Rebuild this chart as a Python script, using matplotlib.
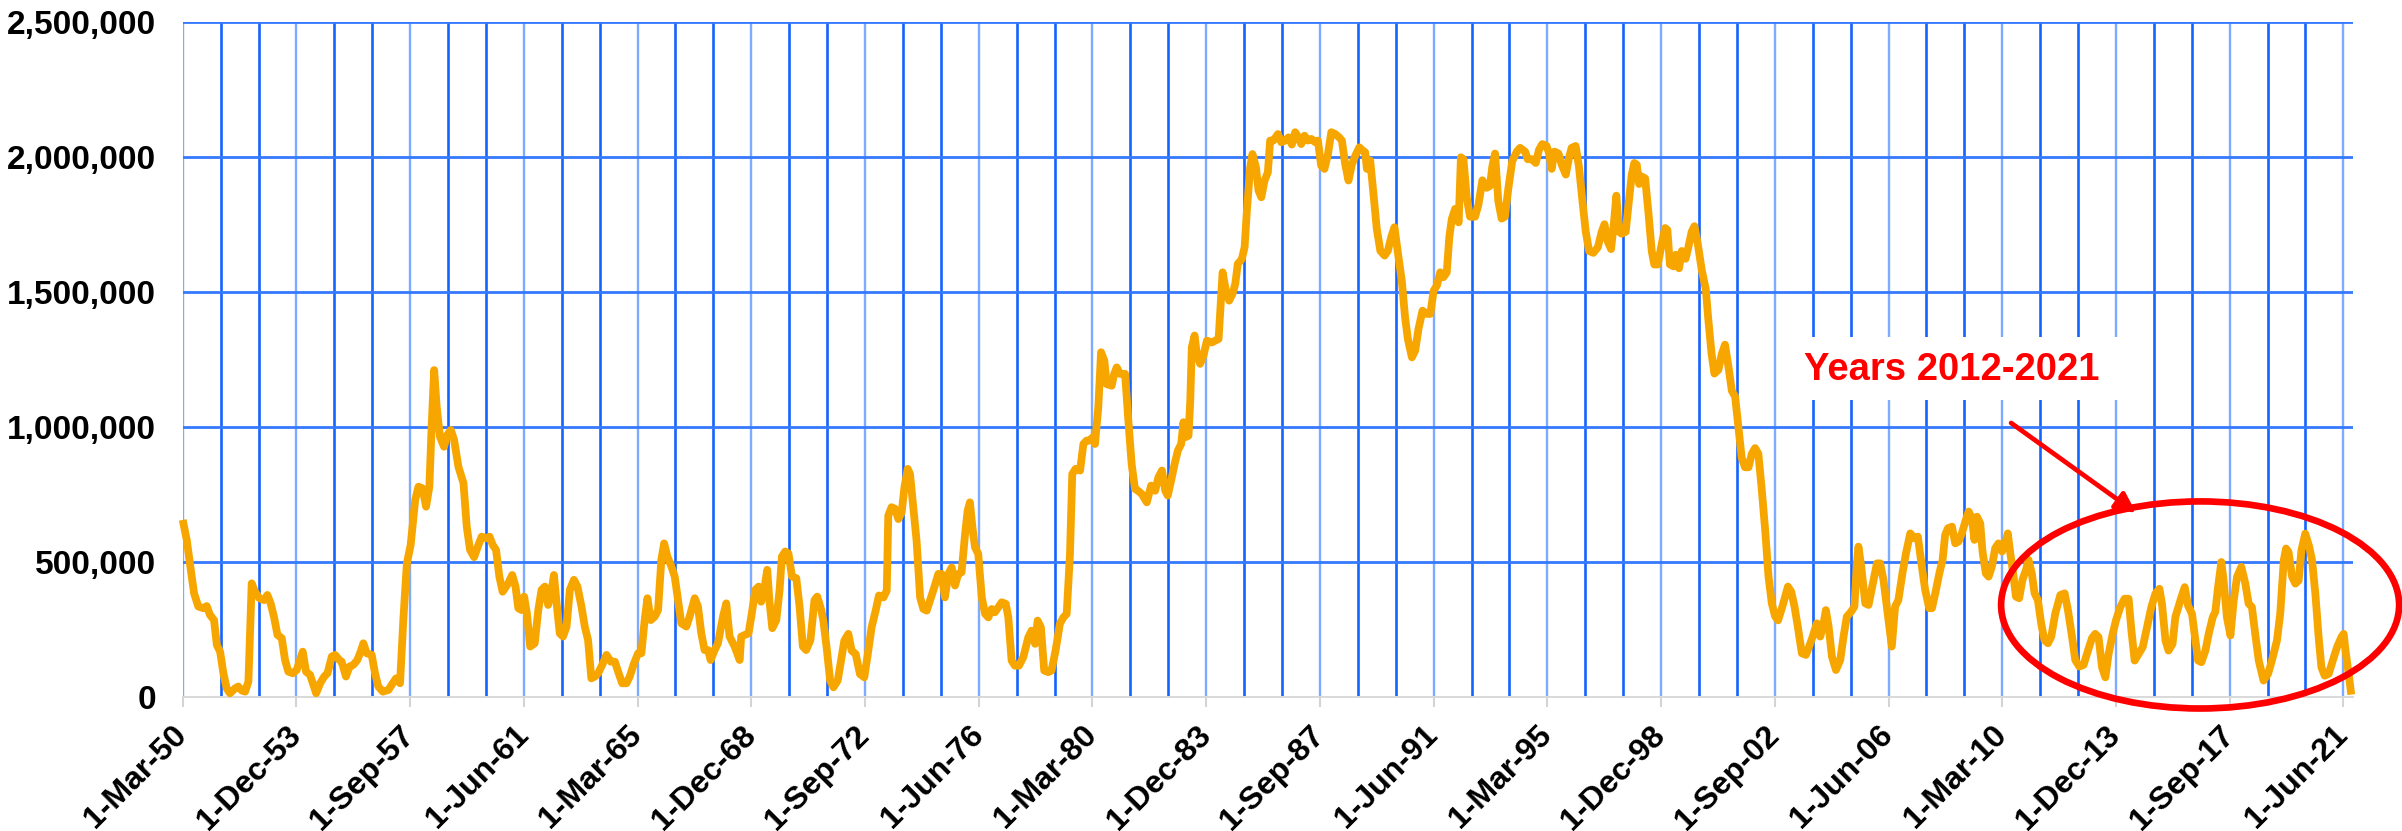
import matplotlib
matplotlib.use('Agg')
import matplotlib.pyplot as plt
from matplotlib.patches import Ellipse, Rectangle
from matplotlib.ticker import FuncFormatter, MultipleLocator
import numpy as np

# position of each point, in months after 1-Mar-1950
months = [
    0.0, 1.6, 3.2, 4.5, 6.2, 8.2, 9.5, 10.8, 12.4, 13.5, 14.8, 16.1, 17.4, 18.7, 20.7, 22.0,
    23.4, 24.7, 26.0, 27.3, 28.6, 30.3, 32.2, 33.5, 34.8, 36.1, 37.5, 39.2, 40.5, 41.8, 43.5,
    45.1, 46.4, 47.5, 48.8, 50.4, 51.7, 52.8, 54.4, 56.0, 57.3, 59.0, 60.3, 62.0, 62.9, 64.6,
    66.0, 67.5, 69.1, 70.4, 71.5, 72.8, 74.8, 76.1, 77.4, 79.2, 81.4, 83.1, 84.4, 86.0, 87.3,
    88.7, 90.2, 92.0, 93.3, 94.9, 96.3, 97.6, 98.5, 99.5, 100.5, 101.8, 103.4, 104.7, 106.1,
    107.4, 109.1, 111.1, 112.4, 113.7, 115.3, 117.0, 118.3, 120.1, 121.4, 122.7, 124.0, 125.3,
    126.6, 128.8, 130.4, 131.7, 132.8, 134.1, 135.1, 136.2, 137.5, 139.3, 140.7, 142.0, 143.3,
    144.6, 145.9, 146.9, 147.9, 149.2, 150.5, 151.9, 153.2, 154.8, 156.2, 157.8, 159.1, 160.4,
    161.7, 163.1, 164.4, 166.0, 167.7, 169.4, 171.0, 172.3, 173.9, 175.6, 176.9, 178.6, 180.2,
    181.5, 182.8, 183.9, 185.2, 186.8, 188.1, 189.4, 190.5, 191.8, 193.4, 194.7, 196.0, 197.3,
    199.3, 200.6, 202.6, 203.9, 205.2, 206.5, 207.9, 208.9, 210.5, 211.8, 213.8, 215.1, 216.4,
    218.4, 220.4, 221.0, 222.4, 223.9, 225.0, 226.6, 227.9, 228.9, 230.3, 231.3, 232.2, 233.3,
    234.9, 236.2, 237.1, 238.4, 239.7, 241.1, 242.8, 244.1, 245.4, 246.7, 248.4, 250.0, 251.1,
    252.7, 253.5, 254.8, 256.2, 257.5, 259.2, 260.5, 261.8, 263.4, 264.7, 266.3, 268.0, 269.7,
    271.1, 272.6, 274.2, 275.5, 277.3, 278.6, 279.2, 280.5, 281.9, 283.2, 284.5, 285.6, 286.9,
    287.8, 289.1, 290.4, 291.8, 293.1, 294.4, 295.7, 297.4, 299.0, 300.3, 301.6, 303.0, 304.3,
    305.6, 306.9, 308.2, 309.6, 310.6, 311.5, 312.5, 313.5, 314.8, 316.2, 317.5, 318.8, 320.1,
    321.4, 322.7, 324.1, 325.7, 326.7, 328.0, 329.3, 330.9, 332.6, 334.6, 335.9, 337.3, 338.3,
    339.6, 340.9, 342.5, 343.8, 345.4, 347.1, 348.5, 349.8, 351.1, 352.0, 353.3, 355.1, 356.4,
    357.7, 359.0, 360.1, 361.0, 362.3, 363.4, 364.7, 365.6, 367.6, 368.6, 369.6, 370.9, 372.9,
    374.2, 375.5, 376.8, 378.0, 379.5, 381.5, 383.2, 384.8, 386.1, 387.5, 388.8, 389.8, 391.1,
    392.5, 393.8, 395.1, 396.0, 396.7, 398.0, 398.7, 399.3, 400.4, 401.3, 402.6, 403.9, 405.3,
    407.2, 408.6, 409.9, 411.5, 412.8, 414.1, 415.4, 416.5, 417.5, 419.1, 420.2, 421.1, 422.4,
    423.3, 424.7, 425.7, 426.8, 428.1, 429.4, 430.3, 431.6, 433.4, 434.7, 436.3, 437.6, 438.9,
    440.2, 441.5, 442.6, 443.9, 445.2, 446.6, 448.1, 449.2, 450.5, 451.8, 453.2, 454.5, 456.1,
    457.6, 458.7, 460.0, 461.3, 462.7, 464.0, 465.6, 466.9, 467.9, 468.6, 469.9, 471.2, 472.5,
    473.9, 475.6, 476.9, 478.2, 479.5, 481.1, 482.4, 483.7, 484.8, 486.4, 487.7, 489.0, 490.6,
    492.3, 493.7, 495.0, 496.3, 497.6, 498.9, 500.2, 501.2, 502.2, 503.5, 504.9, 505.8, 506.8,
    508.1, 509.4, 511.4, 512.7, 514.3, 516.0, 517.3, 518.2, 519.3, 520.6, 521.9, 523.2, 524.6,
    526.1, 527.9, 529.2, 531.2, 532.2, 533.8, 535.4, 536.7, 538.0, 539.7, 540.7, 541.7, 542.8,
    544.4, 545.7, 547.3, 548.6, 549.6, 551.2, 552.5, 553.9, 555.2, 556.5, 558.2, 560.0, 561.5,
    562.6, 563.9, 565.2, 566.3, 567.3, 568.4, 569.4, 571.0, 572.1, 573.4, 574.4, 575.4, 576.3,
    577.3, 578.7, 580.0, 581.3, 582.3, 583.7, 585.3, 586.6, 587.5, 588.5, 589.9, 590.8, 592.1,
    593.2, 594.7, 595.8, 597.1, 598.2, 599.5, 601.1, 602.7, 603.7, 605.0, 606.1, 607.7, 609.0,
    610.3, 611.6, 613.0, 614.3, 615.6, 616.9, 618.2, 619.6, 620.9, 622.2, 623.5, 624.8, 626.2,
    627.5, 628.8, 630.1, 631.3, 633.0, 635.2, 636.5, 637.8, 639.1, 640.7, 642.3, 643.6, 645.0,
    646.6, 648.0, 649.3, 650.2, 651.3, 652.6, 654.2, 655.9, 657.2, 658.5, 660.2, 661.5, 662.5,
    663.1, 664.2, 665.8, 667.1, 668.7, 670.4, 671.7, 673.0, 675.0, 676.3, 677.6, 678.9, 680.5,
    681.9, 683.6, 685.3, 686.6, 688.2, 689.5, 691.1, 692.2, 693.5, 695.1, 696.4, 697.4, 698.5,
    700.1, 701.4, 702.7, 704.0, 705.6, 706.7, 708.0, 709.0, 710.0, 711.3, 712.2, 713.5, 714.6,
    715.9, 717.2, 718.5, 719.9, 720.9, 722.2, 723.2, 724.5, 725.4, 726.7, 728.0, 729.4, 730.4,
    731.7, 732.8, 734.1, 735.4, 736.7, 738.1, 739.4, 741.0, 743.0, 744.7, 746.0, 747.6, 748.9,
    750.5, 752.2, 754.0, 755.5, 756.8, 758.1, 759.5, 760.8, 762.1, 763.7, 765.0, 766.7, 768.4,
    770.0, 771.1, 772.4, 774.0, 775.6, 777.3, 779.0, 780.6, 782.2, 783.2, 784.6, 785.8, 787.4,
    788.5, 790.5, 792.2, 793.5, 795.1, 796.1, 797.5, 798.8, 800.4, 801.7, 803.3, 804.3, 805.4,
    806.7, 807.6, 808.9, 810.3, 811.6, 812.9, 814.6, 816.2, 817.5, 818.8, 820.1, 821.5, 823.4,
    825.2, 826.7, 828.7, 830.0, 831.4, 832.3, 833.3, 834.7, 836.0, 837.3, 838.4, 839.9, 841.5,
    842.6, 843.9, 845.2, 846.3, 847.6, 849.2, 850.8, 852.5, 854.2, 855.1, 856.0, 857.1, 858.1,
]

# values in thousands
values_k = [
    657, 583, 472, 385, 336, 330, 338, 305, 286, 194, 169, 89, 33, 15, 33, 40,
    25, 21, 58, 422, 391, 367, 360, 379, 348, 299, 231, 219, 138, 95, 89,
    101, 138, 169, 95, 83, 46, 15, 52, 77, 89, 151, 157, 138, 132, 77,
    114, 120, 138, 169, 200, 163, 157, 89, 40, 21, 27, 52, 70, 52, 286,
    496, 564, 731, 780, 774, 706, 780, 1002, 1212, 1077, 965, 928, 972, 990,
    953, 854, 793, 632, 546, 519, 564, 595, 589, 595, 564, 546, 447,
    391, 422, 453, 410, 330, 323, 373, 311, 188, 200, 323, 398, 410,
    342, 391, 453, 354, 237, 225, 262, 398, 435, 410, 336, 262, 212,
    70, 77, 89, 120, 157, 132, 132, 95, 52, 52, 77, 126, 163,
    163, 286, 367, 286, 299, 323, 509, 570, 521, 484, 447, 360, 274,
    262, 299, 367, 336, 237, 175, 175, 138, 175, 200, 299, 348, 225,
    188, 138, 225, 231, 237, 299, 398, 410, 354, 410, 472, 354, 256,
    286, 398, 521, 540, 533, 447, 441, 336, 188, 175, 212, 360, 373,
    323, 284, 185, 62, 37, 62, 136, 210, 235, 173, 160, 86, 74,
    160, 259, 321, 377, 370, 395, 673, 704, 698, 660, 685, 778, 846,
    827, 704, 580, 370, 327, 321, 358, 407, 457, 457, 370, 457, 481,
    414, 457, 463, 605, 691, 722, 630, 556, 531, 370, 309, 296, 327,
    315, 333, 352, 346, 296, 136, 117, 117, 148, 222, 247, 198, 284,
    259, 99, 93, 99, 173, 272, 296, 309, 531, 827, 846, 840, 938,
    951, 951, 963, 938, 1074, 1278, 1247, 1160, 1154, 1198, 1222, 1198, 1198,
    1025, 864, 772, 765, 753, 722, 784, 765, 815, 840, 765, 747, 802,
    864, 914, 938, 1019, 963, 969, 1099, 1296, 1340, 1272, 1235, 1265, 1321,
    1314, 1321, 1327, 1574, 1506, 1469, 1494, 1531, 1605, 1623, 1667, 1802, 1963,
    2012, 1963, 1877, 1852, 1914, 1944, 2062, 2062, 2086, 2056, 2062, 2074, 2047,
    2093, 2074, 2049, 2080, 2062, 2068, 2056, 2062, 1969, 1957, 2012, 2093, 2086,
    2074, 2062, 1975, 1914, 1975, 2006, 2037, 2025, 2019, 1957, 1988, 1864, 1735,
    1654, 1636, 1654, 1704, 1741, 1630, 1543, 1407, 1327, 1259, 1284, 1364, 1432,
    1420, 1420, 1506, 1525, 1574, 1556, 1574, 1704, 1772, 1809, 1759, 2000, 1993,
    1851, 1780, 1780, 1823, 1915, 1887, 1894, 1965, 2014, 1837, 1773, 1780, 1887,
    1986, 2021, 2035, 2021, 1993, 1993, 1979, 2028, 2049, 2042, 2014, 1957, 2021,
    2014, 1972, 1936, 2000, 2035, 2042, 1965, 1837, 1724, 1653, 1646, 1667, 1724,
    1752, 1688, 1660, 1752, 1858, 1724, 1717, 1724, 1823, 1936, 1979, 1972, 1901,
    1929, 1922, 1795, 1653, 1603, 1603, 1681, 1738, 1731, 1603, 1596, 1639, 1589,
    1653, 1624, 1667, 1724, 1745, 1681, 1582, 1511, 1398, 1271, 1199, 1213, 1271,
    1306, 1228, 1135, 1114, 1001, 887, 852, 852, 902, 923, 902, 774, 618,
    448, 349, 300, 285, 336, 410, 391, 336, 262, 163, 157, 188, 225,
    274, 225, 274, 323, 262, 151, 101, 138, 225, 299, 317, 336, 496,
    558, 484, 348, 342, 416, 496, 496, 435, 286, 188, 336, 360, 459,
    533, 607, 589, 595, 484, 398, 330, 330, 385, 459, 509, 601, 626,
    632, 570, 577, 607, 657, 688, 663, 583, 669, 644, 540, 459, 447,
    484, 552, 570, 540, 558, 607, 533, 447, 373, 367, 435, 472, 509,
    459, 385, 360, 274, 212, 200, 225, 311, 379, 385, 323, 225, 138,
    114, 120, 175, 219, 235, 223, 111, 74, 161, 235, 285, 334, 365,
    365, 248, 136, 161, 186, 260, 334, 384, 402, 347, 210, 173, 198,
    297, 359, 408, 340, 309, 235, 136, 130, 173, 235, 297, 316, 408,
    501, 433, 297, 229, 359, 446, 483, 421, 347, 334, 235, 136, 62,
    87, 136, 210, 309, 507, 551, 538, 446, 421, 433, 545, 606, 557,
    507, 384, 223, 111, 80, 87, 136, 186, 223, 235, 161, 87, 10,
]

tick_months = list(range(0, 856, 45))
tick_labels = ['1-Mar-50', '1-Dec-53', '1-Sep-57', '1-Jun-61', '1-Mar-65',
               '1-Dec-68', '1-Sep-72', '1-Jun-76', '1-Mar-80', '1-Dec-83',
               '1-Sep-87', '1-Jun-91', '1-Mar-95', '1-Dec-98', '1-Sep-02',
               '1-Jun-06', '1-Mar-10', '1-Dec-13', '1-Sep-17', '1-Jun-21']
y_ticks = [0, 500000, 1000000, 1500000, 2000000, 2500000]
note_text = 'Years 2012-2021'

plt.rcParams['font.family'] = ['Liberation Sans', 'DejaVu Sans']

W, H = 2402, 831
fig = plt.figure(figsize=(W / 100, H / 100), dpi=100)
x0, x1, y_top, y_zero = 182.7, 2352.5, 22.3, 697.3
ax = fig.add_axes([x0 / W, 1 - y_zero / H, (x1 - x0) / W, (y_zero - y_top) / H])

x = np.array(months)
y = np.array(values_k) * 1000.0
ax.plot(x, y, color='#F7A600', lw=5.6, solid_joinstyle='round',
        solid_capstyle='butt', zorder=3, clip_on=False)

ax.set_xlim(0, 858.6)
ax.set_ylim(0, 2500000)

# x axis: labels every 45 months, extra gridlines every 15 months
ax.set_xticks(tick_months)
ax.set_xticklabels(tick_labels, rotation=45, ha='right', va='center',
                   rotation_mode='anchor', fontsize=23, fontweight='bold')
ax.xaxis.set_minor_locator(MultipleLocator(15))
ax.grid(which='major', axis='x', color='#7DABFF', lw=1.7)
ax.grid(which='minor', axis='x', color='#1563FF', lw=1.9)

ax.set_yticks(y_ticks)
ax.yaxis.set_major_formatter(FuncFormatter(lambda v, p: f'{int(v):,}'))
for lbl in ax.get_yticklabels():
    lbl.set_fontweight('bold')
ax.grid(which='major', axis='y', color='#3479FF', lw=2.0)
ax.yaxis.get_gridlines()[0].set_visible(False)
ax.set_axisbelow(True)

ax.tick_params(axis='y', length=0, pad=19, labelsize=24)
ax.tick_params(axis='x', which='major', length=7, width=1.5, color='#D4D4D4', pad=17)
ax.tick_params(axis='x', which='minor', length=0)
for s in ['top', 'right', 'left']:
    ax.spines[s].set_visible(False)
ax.spines['bottom'].set_color('#D9D9D9')
ax.spines['bottom'].set_linewidth(1.4)

# annotation
ax.add_patch(Rectangle((636, 1101000), 136.6, 233000, facecolor='white',
                       edgecolor='none', zorder=1))
ax.text(700, 1213000, note_text, color='#FF0000', fontsize=27.5, fontweight='bold',
        ha='center', va='center', zorder=4)
ax.annotate('', xy=(773, 683000), xytext=(723.5, 1016000),
            arrowprops=dict(arrowstyle='-|>', color='#FF0000', lw=3.4,
                            mutation_scale=30, shrinkA=0, shrinkB=0),
            zorder=5)
ax.add_patch(Ellipse((798.3, 342000), 157.5, 767000, fill=False,
                     edgecolor='#FF0000', lw=4.8, zorder=5, clip_on=False))

fig.savefig('out.png', dpi=100)
